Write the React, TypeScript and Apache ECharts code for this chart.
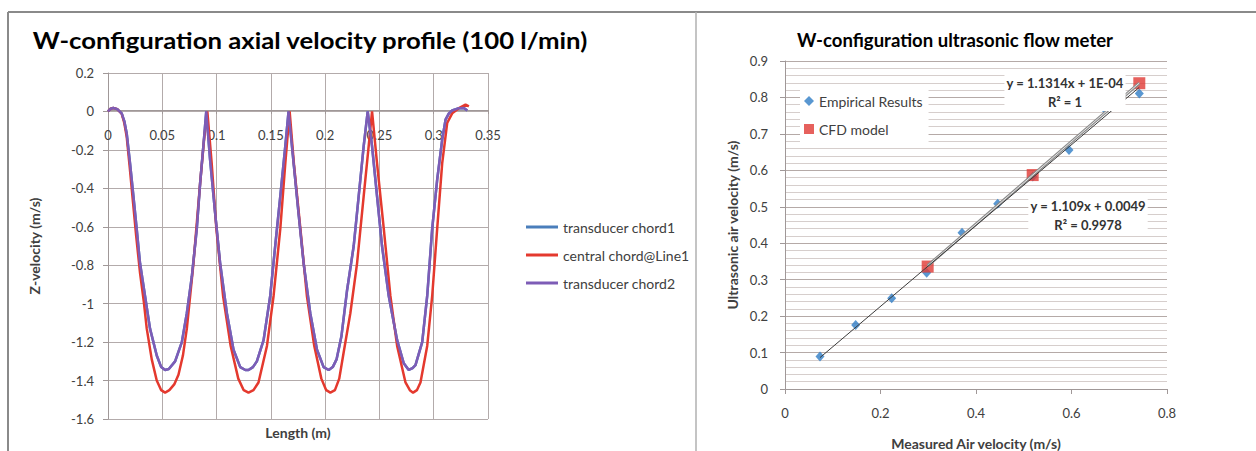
import React, { useEffect, useRef } from "react";
import * as echarts from "echarts";

const FONT = 'Lato, "Open Sans", sans-serif';

// Left chart: W-configuration axial velocity profile (x = length m, y = z-velocity m/s)
const chord1Points: number[][] = [
  [0, 0], [0.0025, 0.014], [0.0049, 0.018], [0.0085, 0.012], [0.0126, -0.01], [0.015, -0.05],
  [0.0172, -0.113], [0.0203, -0.27], [0.0234, -0.44], [0.0264, -0.61], [0.0295, -0.79], [0.0341, -0.96],
  [0.0387, -1.13], [0.0449, -1.27], [0.049, -1.33], [0.0526, -1.345], [0.056, -1.34], [0.0618, -1.3],
  [0.068, -1.2], [0.0726, -1.05], [0.0772, -0.86], [0.0818, -0.61], [0.0849, -0.37], [0.0886, -0.13],
  [0.0905, 0], [0.094, -0.25], [0.0987, -0.53], [0.1033, -0.79], [0.1095, -1.05], [0.1156, -1.24],
  [0.1218, -1.33], [0.1265, -1.345], [0.1294, -1.345], [0.1335, -1.33], [0.1371, -1.3], [0.1433, -1.19],
  [0.1494, -0.96], [0.154, -0.7], [0.1587, -0.44], [0.1633, -0.18], [0.1663, 0], [0.171, -0.27],
  [0.1755, -0.53], [0.1802, -0.79], [0.1863, -1.05], [0.1925, -1.24], [0.1986, -1.33], [0.2033, -1.345],
  [0.207, -1.33], [0.2105, -1.29], [0.215, -1.17], [0.2202, -0.93], [0.2263, -0.7], [0.2309, -0.44],
  [0.2355, -0.18], [0.2392, 0], [0.2432, -0.18], [0.2478, -0.44], [0.2524, -0.7], [0.2586, -0.96],
  [0.2663, -1.19], [0.2724, -1.31], [0.277, -1.345], [0.2805, -1.335], [0.2832, -1.32], [0.2894, -1.2],
  [0.294, -0.96], [0.2986, -0.61], [0.3032, -0.355], [0.3078, -0.147], [0.3109, -0.043], [0.314, -0.01],
  [0.317, 0.005], [0.3232, 0.017], [0.3278, 0.018], [0.3309, 0.005],
];

const centralPoints: number[][] = [
  [0, 0], [0.0025, 0.014], [0.0049, 0.018], [0.0085, 0.012], [0.0126, -0.012], [0.015, -0.06],
  [0.0172, -0.13], [0.02, -0.29], [0.023, -0.47], [0.026, -0.65], [0.0295, -0.84], [0.033, -0.99],
  [0.0357, -1.13], [0.0403, -1.29], [0.0449, -1.4], [0.049, -1.45], [0.0526, -1.463], [0.0565, -1.45],
  [0.061, -1.42], [0.0649, -1.37], [0.069, -1.27], [0.0726, -1.13], [0.0787, -0.79], [0.0849, -0.37],
  [0.0886, -0.14], [0.0915, 0], [0.0955, -0.27], [0.0998, -0.61], [0.106, -0.96], [0.113, -1.22],
  [0.12, -1.39], [0.125, -1.45], [0.1294, -1.463], [0.134, -1.45], [0.1386, -1.41], [0.1464, -1.22],
  [0.1525, -0.96], [0.1587, -0.61], [0.1633, -0.27], [0.1673, 0], [0.1712, -0.27], [0.1772, -0.61],
  [0.1832, -0.96], [0.19, -1.22], [0.1965, -1.39], [0.201, -1.45], [0.2048, -1.463], [0.209, -1.45],
  [0.213, -1.39], [0.217, -1.255], [0.2232, -1.05], [0.2294, -0.79], [0.2355, -0.44], [0.2401, -0.18],
  [0.2432, 0], [0.2478, -0.27], [0.254, -0.61], [0.2601, -0.96], [0.2663, -1.22], [0.274, -1.41],
  [0.278, -1.45], [0.281, -1.463], [0.2845, -1.45], [0.2878, -1.41], [0.294, -1.22], [0.2986, -0.96],
  [0.3032, -0.61], [0.3078, -0.27], [0.3124, -0.06], [0.317, -0.01], [0.3232, 0.017], [0.3293, 0.035],
  [0.3324, 0.026],
];

const chord2Points: number[][] = [
  [0, 0], [0.0025, 0.014], [0.0049, 0.018], [0.0085, 0.012], [0.0126, -0.01], [0.015, -0.05],
  [0.0172, -0.113], [0.0203, -0.27], [0.0234, -0.44], [0.0264, -0.61], [0.0295, -0.79], [0.0341, -0.96],
  [0.0387, -1.13], [0.0449, -1.27], [0.049, -1.33], [0.0526, -1.345], [0.056, -1.34], [0.0618, -1.3],
  [0.068, -1.2], [0.0726, -1.05], [0.0772, -0.86], [0.0818, -0.61], [0.0849, -0.37], [0.0886, -0.13],
  [0.0905, 0], [0.094, -0.25], [0.0987, -0.53], [0.1033, -0.79], [0.1095, -1.05], [0.1156, -1.24],
  [0.1218, -1.33], [0.1265, -1.345], [0.1294, -1.345], [0.1335, -1.33], [0.1371, -1.3], [0.1433, -1.19],
  [0.1494, -0.96], [0.154, -0.7], [0.1587, -0.44], [0.1633, -0.18], [0.1663, 0], [0.171, -0.27],
  [0.1755, -0.53], [0.1802, -0.79], [0.1863, -1.05], [0.1925, -1.24], [0.1986, -1.33], [0.2033, -1.345],
  [0.207, -1.33], [0.2105, -1.29], [0.215, -1.17], [0.2202, -0.93], [0.2263, -0.7], [0.2309, -0.44],
  [0.2355, -0.18], [0.2392, 0], [0.2432, -0.18], [0.2478, -0.44], [0.2524, -0.7], [0.2586, -0.96],
  [0.2663, -1.19], [0.2724, -1.31], [0.277, -1.345], [0.2805, -1.335], [0.2832, -1.32], [0.2894, -1.2],
  [0.294, -0.96], [0.2986, -0.61], [0.3032, -0.355], [0.3078, -0.147], [0.3109, -0.043], [0.314, -0.01],
  [0.317, 0.005], [0.3232, 0.017], [0.3278, 0.018], [0.3309, 0.005],
];

// Right chart: W-configuration ultrasonic flow meter
const empiricalX = [0.0733, 0.148, 0.2234, 0.2967, 0.3707, 0.4454, 0.519, 0.5948, 0.67, 0.742];
const empiricalY = [0.089, 0.1756, 0.249, 0.319, 0.429, 0.508, 0.583, 0.656, 0.7675, 0.811];
const cfdX = [0.2988, 0.5187, 0.742];
const cfdY = [0.336, 0.587, 0.839];
const empiricalFit = { slope: 1.109, intercept: 0.0049, r2: "0.9978" };
const cfdFit = { slope: 1.1314, intercept: 0.0001, r2: "1" };

const leftLegend = ["transducer chord1", "central chord@Line1", "transducer chord2"];
const rightLegend = ["Empirical Results", "CFD model"];

const fitLine = (xs: number[], fit: { slope: number; intercept: number }) => {
  const lo = Math.min(...xs);
  const hi = Math.max(...xs);
  return [lo, hi].map((x) => [x, fit.slope * x + fit.intercept]);
};

export default function App() {
  const ref = useRef<HTMLDivElement>(null);
  useEffect(() => {
    if (!ref.current) return;
    const chart = echarts.init(ref.current, null, { renderer: "svg" });
    const gridColor = "#b3abab";
    const axisColor = "#a09898";
    const labelStyle = { color: "#404040", fontSize: 13, fontFamily: FONT };
    const nameStyle = { color: "#404040", fontSize: 14, fontWeight: "bold", fontFamily: FONT };
    const option: any = {
      animation: false,
      backgroundColor: "#ffffff",
      textStyle: { fontFamily: FONT },
      grid: [
        { left: 108, top: 73, width: 380, height: 346, outerBoundsMode: "none", containLabel: false },
        { left: 785, top: 61, width: 382, height: 328, outerBoundsMode: "none", containLabel: false },
        // strip whose bottom edge is the zero line of the left chart: carries the crossing x axis
        { left: 108, top: 73, width: 380, height: 37, outerBoundsMode: "none", containLabel: false },
      ],
      xAxis: [
        {
          gridIndex: 0, type: "value", min: 0, max: 0.35, interval: 0.05,
          axisLine: { show: false }, axisTick: { show: false }, axisLabel: { show: false },
          splitLine: { show: true, lineStyle: { color: gridColor, width: 1 } },
        },
        {
          gridIndex: 1, type: "value", min: 0, max: 0.8, interval: 0.2,
          axisLine: { onZero: false, lineStyle: { color: axisColor, width: 1 } },
          axisTick: { show: true, length: 5, lineStyle: { color: axisColor } },
          axisLabel: { ...labelStyle, margin: 17 },
          splitLine: { show: false },
          name: "Measured Air velocity (m/s)", nameLocation: "middle", nameGap: 47,
          nameTextStyle: nameStyle,
        },
        {
          gridIndex: 2, type: "value", min: 0, max: 0.35, interval: 0.05,
          axisLine: { show: true, onZero: false, lineStyle: { color: axisColor, width: 1 } },
          axisTick: { show: true, length: 4, lineStyle: { color: axisColor } },
          axisLabel: { ...labelStyle, margin: 18 },
          splitLine: { show: false },
        },
      ],
      yAxis: [
        {
          gridIndex: 0, type: "value", min: -1.6, max: 0.2, interval: 0.2,
          axisLine: { show: true, onZero: false, lineStyle: { color: axisColor, width: 1 } },
          axisTick: { show: true, length: 5, lineStyle: { color: axisColor } },
          axisLabel: { ...labelStyle, margin: 14 },
          splitLine: { show: true, lineStyle: { color: gridColor, width: 1 } },
          name: "Z-velocity (m/s)", nameLocation: "middle", nameGap: 67, nameRotate: 90,
          nameTextStyle: nameStyle,
        },
        {
          gridIndex: 1, type: "value", min: 0, max: 0.9, interval: 0.1,
          axisLine: { show: true, onZero: false, lineStyle: { color: axisColor, width: 1 } },
          axisTick: { show: true, length: 5, lineStyle: { color: axisColor } },
          axisLabel: { ...labelStyle, margin: 17 },
          splitLine: { show: true, lineStyle: { color: "#b5aaa7", width: 1 } },
          minorTick: { show: false, splitNumber: 5 },
          minorSplitLine: { show: true, lineStyle: { color: "#d6cecc", width: 1 } },
          name: "Ultrasonic air velocity (m/s)", nameLocation: "middle", nameGap: 46, nameRotate: 90,
          nameTextStyle: nameStyle,
        },
        {
          gridIndex: 2, type: "value", min: 0, max: 1, show: false,
        },
      ],
      legend: [
        {
          data: leftLegend, orient: "vertical", left: 521, top: 214,
          icon: "rect", itemWidth: 32, itemHeight: 3, itemGap: 12, selectedMode: false,
          textStyle: { color: "#404040", fontSize: 14, fontFamily: FONT, lineHeight: 16 },
        },
        {
          data: rightLegend, orient: "vertical", left: 800, top: 87,
          itemWidth: 10, itemHeight: 10, itemGap: 12, selectedMode: false,
          backgroundColor: "#ffffff", padding: [6, 6, 6, 4],
          textStyle: { color: "#404040", fontSize: 14, fontFamily: FONT, lineHeight: 16 },
        },
      ],
      series: [
        {
          name: "transducer chord1", type: "line", xAxisIndex: 0, yAxisIndex: 0,
          data: chord1Points, symbol: "none", lineStyle: { color: "#4a7ebb", width: 2.5 },
          itemStyle: { color: "#4a7ebb" }, z: 3,
        },
        {
          name: "central chord@Line1", type: "line", xAxisIndex: 0, yAxisIndex: 0,
          data: centralPoints, symbol: "none", lineStyle: { color: "#e4392e", width: 2.5 },
          itemStyle: { color: "#e4392e" }, z: 4,
        },
        {
          name: "transducer chord2", type: "line", xAxisIndex: 0, yAxisIndex: 0,
          data: chord2Points, symbol: "none", lineStyle: { color: "#7d5cb6", width: 2.5 },
          itemStyle: { color: "#7d5cb6" }, z: 5,
        },
        {
          name: "Empirical Results", type: "scatter", xAxisIndex: 1, yAxisIndex: 1,
          data: empiricalX.map((x, i) => [x, empiricalY[i]]), symbol: "diamond", symbolSize: [9, 10],
          itemStyle: { color: "#2f7dc6" }, z: 3,
        },
        {
          name: "CFD model", type: "scatter", xAxisIndex: 1, yAxisIndex: 1,
          data: cfdX.map((x, i) => [x, cfdY[i]]), symbol: "rect", symbolSize: 12,
          itemStyle: { color: "#e03a35" }, z: 4,
        },
        {
          name: "cfd-trend-outer", type: "line", xAxisIndex: 1, yAxisIndex: 1,
          data: fitLine(cfdX, cfdFit), symbol: "none", silent: true,
          lineStyle: { color: "#8c8c8c", width: 3 }, z: 5,
        },
        {
          name: "cfd-trend-inner", type: "line", xAxisIndex: 1, yAxisIndex: 1,
          data: fitLine(cfdX, cfdFit), symbol: "none", silent: true,
          lineStyle: { color: "#e6e6e6", width: 1 }, z: 6,
        },
        {
          name: "empirical-trend", type: "line", xAxisIndex: 1, yAxisIndex: 1,
          data: fitLine(empiricalX, empiricalFit), symbol: "none", silent: true,
          lineStyle: { color: "#3a3a3a", width: 1 }, z: 7,
        },
      ],
      graphic: [
        { type: "line", shape: { x1: 8, y1: 12, x2: 1256, y2: 12 }, style: { stroke: "#8a8a8a", lineWidth: 2 } },
        { type: "line", shape: { x1: 8, y1: 12, x2: 8, y2: 451 }, style: { stroke: "#8a8a8a", lineWidth: 2 } },
        { type: "line", shape: { x1: 696, y1: 12, x2: 696, y2: 451 }, style: { stroke: "#b0b0b0", lineWidth: 1.5 } },
        {
          type: "text", x: 310, y: 40, scaleX: 1.17,
          style: { text: "W-configuration axial velocity profile (100 l/min)", fontSize: 22, fontWeight: "bold", fontFamily: FONT, fill: "#000", align: "center", verticalAlign: "middle" },
        },
        {
          type: "text", x: 955, y: 40, scaleX: 1.03,
          style: { text: "W-configuration ultrasonic flow meter", fontSize: 18, fontWeight: "bold", fontFamily: FONT, fill: "#000", align: "center", verticalAlign: "middle" },
        },
        {
          type: "text", x: 298, y: 432,
          style: { text: "Length (m)", fontSize: 14, fontWeight: "bold", fontFamily: FONT, fill: "#404040", align: "center", verticalAlign: "middle" },
        },
        {
          type: "text", x: 1065, y: 92, z: 20,
          style: {
            text: `y = ${cfdFit.slope}x + 1E-04\nR² = ${cfdFit.r2}`, fontSize: 13, fontWeight: "bold", fontFamily: FONT,
            fill: "#333", align: "center", verticalAlign: "middle", lineHeight: 19, backgroundColor: "#ffffff", padding: [0, 2],
          },
        },
        {
          type: "text", x: 1088, y: 215, z: 20,
          style: {
            text: `y = ${empiricalFit.slope}x + ${empiricalFit.intercept}\nR² = ${empiricalFit.r2}`, fontSize: 13, fontWeight: "bold", fontFamily: FONT,
            fill: "#333", align: "center", verticalAlign: "middle", lineHeight: 19, backgroundColor: "#ffffff", padding: [0, 2],
          },
        },
      ],
    };
    chart.setOption(option);
    return () => chart.dispose();
  }, []);
  return (
    <div
      ref={ref}
      style={{ position: "fixed", left: 0, top: 0, width: 1256, height: 451, background: "#fff" }}
    />
  );
}
